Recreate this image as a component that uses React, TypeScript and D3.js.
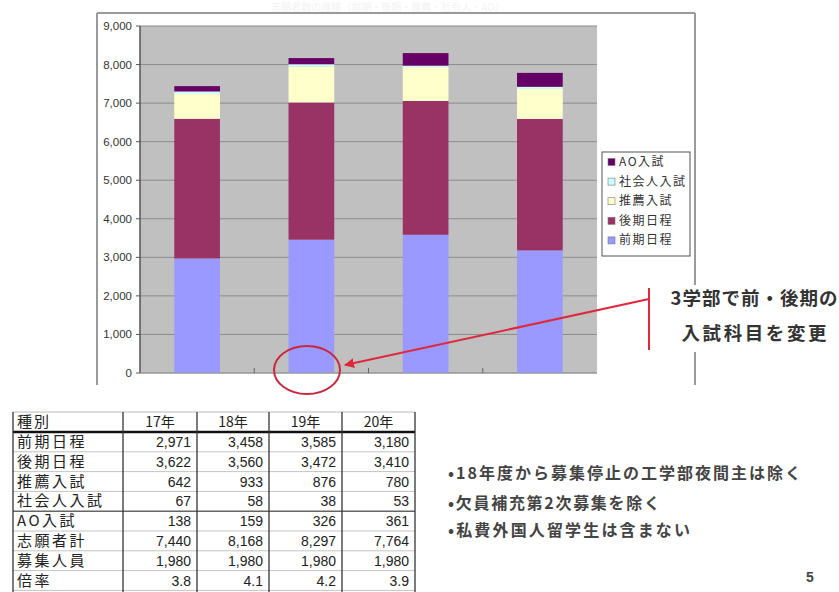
import React from "react";
import * as d3 from "d3";

const years = ["17年", "18年", "19年", "20年"];
const seriesNames = ["前期日程", "後期日程", "推薦入試", "社会人入試", "AO入試"];
const zenki = [2971, 3458, 3585, 3180];
const kouki = [3622, 3560, 3472, 3410];
const suisen = [642, 933, 876, 780];
const shakaijin = [67, 58, 38, 53];
const ao = [138, 159, 326, 361];
const totals = [7440, 8168, 8297, 7764];
const boshu = [1980, 1980, 1980, 1980];
const bairitsu = [3.8, 4.1, 4.2, 3.9];
const yTicks = [0, 1000, 2000, 3000, 4000, 5000, 6000, 7000, 8000, 9000];
const seriesColors = ["#9999FF", "#993366", "#FFFFCC", "#CCFFFF", "#660066"];
const notes = [
  "•18年度から募集停止の工学部夜間主は除く",
  "•欠員補充第2次募集を除く",
  "•私費外国人留学生は含まない",
];
const noteLengths = [353, 212, 242];
const callout = ["3学部で前・後期の", "入試科目を変更"];
const titleText = "志願者数の推移（前期・後期・推薦・社会人・AO）";

const W = 839;
const H = 592;
const jp = "'Noto Sans CJK JP', 'Noto Sans', sans-serif";
const latin = "'Liberation Sans', Arial, sans-serif";

export default function App() {
  const plot = { left: 140, right: 597, top: 26, bottom: 373 };
  const x = d3
    .scaleBand<string>()
    .domain(years)
    .range([plot.left, plot.right])
    .paddingInner(0.6)
    .paddingOuter(0.3);
  const y = d3.scaleLinear().domain([0, 9000]).range([plot.bottom, plot.top]);

  const rows = years.map((yr, i) => ({
    year: yr,
    前期日程: zenki[i],
    後期日程: kouki[i],
    推薦入試: suisen[i],
    社会人入試: shakaijin[i],
    AO入試: ao[i],
  }));
  const stack = d3.stack<any>().keys(seriesNames)(rows);
  const fmt = d3.format(",");
  const fmt1 = d3.format(".1f");

  const legend = { x: 602, y: 152, w: 88, h: 104 };
  const legendOrder = [...seriesNames].reverse();

  const colX = [13, 123, 197, 269, 342, 415];
  const tableTop = 412;
  const headerLine = 432;
  const rowH = 19.8;
  const tableRows: { label: string; vals: string[] }[] = [
    { label: "前期日程", vals: zenki.map(fmt) },
    { label: "後期日程", vals: kouki.map(fmt) },
    { label: "推薦入試", vals: suisen.map(fmt) },
    { label: "社会人入試", vals: shakaijin.map(fmt) },
    { label: "AO入試", vals: ao.map(fmt) },
    { label: "志願者計", vals: totals.map(fmt) },
    { label: "募集人員", vals: boshu.map(fmt) },
    { label: "倍率", vals: bairitsu.map(fmt1) },
  ];

  const red = "#e0283c";

  return (
    <svg
      width={W}
      height={H}
      style={{ position: "absolute", left: 0, top: 0, background: "#fff" }}
    >
      <defs>
        <marker
          id="arrow"
          viewBox="0 0 10 10"
          refX="9"
          refY="5"
          markerWidth="5"
          markerHeight="5"
          orient="auto-start-reverse"
        >
          <path d="M0,0 L10,5 L0,10 z" fill={red} />
        </marker>
      </defs>
      <rect x={0} y={0} width={W} height={H} fill="#fff" />

      {/* faint title */}
      <text
        x={388}
        y={11}
        textAnchor="middle"
        fontFamily={jp}
        fontSize={10}
        fill="#f3f3f3"
      >
        {titleText}
      </text>

      {/* outer chart frame */}
      <g stroke="#9a9a9a" strokeWidth={2} fill="none">
        <line x1={97} y1={13} x2={695} y2={13} />
        <line x1={97} y1={13} x2={97} y2={385} />
        <line x1={695} y1={13} x2={695} y2={385} />
      </g>

      {/* plot area */}
      <rect
        x={plot.left}
        y={plot.top}
        width={plot.right - plot.left}
        height={plot.bottom - plot.top}
        fill="#C0C0C0"
      />
      {yTicks.map((t) => (
        <line
          key={"g" + t}
          x1={plot.left}
          x2={plot.right}
          y1={y(t)}
          y2={y(t)}
          stroke="#8c8c8c"
          strokeWidth={1}
        />
      ))}

      {/* bars */}
      {stack.map((s, si) => (
        <g key={s.key} fill={seriesColors[si]}>
          {s.map((d, i) => (
            <rect
              key={i}
              x={x(years[i])}
              y={y(d[1])}
              width={x.bandwidth()}
              height={Math.max(0, y(d[0]) - y(d[1]))}
            />
          ))}
        </g>
      ))}

      {/* y axis */}
      <line
        x1={plot.left}
        x2={plot.left}
        y1={plot.top}
        y2={plot.bottom}
        stroke="#555"
        strokeWidth={1.5}
      />
      {yTicks.map((t) => (
        <g key={"t" + t}>
          <line
            x1={plot.left - 4}
            x2={plot.left}
            y1={y(t)}
            y2={y(t)}
            stroke="#555"
          />
          <text
            x={132}
            y={y(t) + 4}
            textAnchor="end"
            fontFamily={latin}
            fontSize={11.5}
            fill="#333"
          >
            {fmt(t)}
          </text>
        </g>
      ))}
      {/* x axis */}
      <line
        x1={plot.left}
        x2={plot.right}
        y1={plot.bottom}
        y2={plot.bottom}
        stroke="#9a9a9a"
      />
      {years.slice(1).map((yr) => {
        const bx = (x(yr) as number) - (x.step() - x.bandwidth()) / 2;
        return (
          <line
            key={"xt" + yr}
            x1={bx}
            x2={bx}
            y1={plot.bottom - 5}
            y2={plot.bottom}
            stroke="#666"
          />
        );
      })}

      {/* legend */}
      <rect
        x={legend.x}
        y={legend.y}
        width={legend.w}
        height={legend.h}
        fill="#fff"
        stroke="#555"
        strokeWidth={1}
      />
      {legendOrder.map((name, i) => {
        const cy = 162 + i * 19.6;
        const ci = seriesNames.indexOf(name);
        return (
          <g key={name}>
            <rect
              x={608}
              y={cy - 3.5}
              width={7}
              height={7}
              fill={seriesColors[ci]}
              stroke="#777"
              strokeWidth={0.6}
            />
            <text
              x={619}
              y={cy + 4}
              fontFamily={jp}
              fontSize={12}
              letterSpacing={1.5}
              fill="#333"
            >
              {name}
            </text>
          </g>
        );
      })}

      {/* callout */}
      <rect x={662} y={285} width={177} height={67} fill="#fff" />
      {callout.map((ln, i) => (
        <text
          key={ln}
          x={754}
          y={305 + i * 35}
          textAnchor="middle"
          fontFamily={jp}
          fontWeight="bold"
          fontSize={18.5}
          fill="#333"
          textLength={i === 0 ? 167 : 145}
          lengthAdjust="spacing"
        >
          {ln}
        </text>
      ))}
      <line x1={649} y1={288} x2={649} y2={350} stroke={red} strokeWidth={2} />
      <line
        x1={649}
        y1={299}
        x2={345}
        y2={365}
        stroke={red}
        strokeWidth={2}
        markerEnd="url(#arrow)"
      />
      <ellipse
        cx={307}
        cy={370}
        rx={33}
        ry={24}
        fill="none"
        stroke="#c8283c"
        strokeWidth={2}
      />

      {/* table */}
      <g>
        <line x1={colX[0]} x2={colX[5]} y1={tableTop} y2={tableTop} stroke="#bbb" />
        {tableRows.map((r, i) => {
          const yl = headerLine + rowH * (i + 1);
          return (
            <line
              key={"rl" + i}
              x1={colX[0]}
              x2={colX[5]}
              y1={yl}
              y2={yl}
              stroke={i === 3 ? "#666" : "#c4c4c4"}
              strokeWidth={i === 3 ? 1.5 : 1}
            />
          );
        })}
        <line
          x1={colX[0]}
          x2={colX[5]}
          y1={headerLine}
          y2={headerLine}
          stroke="#111"
          strokeWidth={2.5}
        />
        {colX.map((cx, i) => (
          <line
            key={"cl" + i}
            x1={cx}
            x2={cx}
            y1={tableTop}
            y2={H}
            stroke="#333"
            strokeWidth={1.3}
          />
        ))}
        <text
          x={17}
          y={427}
          fontFamily={jp}
          fontSize={15}
          letterSpacing={2}
          fill="#222"
        >
          種別
        </text>
        {years.map((yr, i) => (
          <text
            key={"h" + yr}
            x={(colX[i + 1] + colX[i + 2]) / 2}
            y={427}
            textAnchor="middle"
            fontFamily={jp}
            fontSize={14}
            fill="#222"
          >
            {yr}
          </text>
        ))}
        {tableRows.map((r, i) => {
          const cy = 442 + i * rowH;
          return (
            <g key={"r" + i}>
              <text
                x={17}
                y={cy + 5}
                fontFamily={jp}
                fontSize={15}
                letterSpacing={2.5}
                fill="#222"
              >
                {r.label}
              </text>
              {r.vals.map((v, j) => (
                <text
                  key={j}
                  x={colX[j + 2] - 6}
                  y={cy + 5}
                  textAnchor="end"
                  fontFamily={latin}
                  fontSize={14}
                  fill="#222"
                >
                  {v}
                </text>
              ))}
            </g>
          );
        })}
      </g>

      {/* notes */}
      {notes.map((n, i) => (
        <text
          key={n}
          x={448}
          y={[479, 509, 536][i]}
          fontFamily={jp}
          fontWeight="bold"
          fontSize={16}
          fill="#444"
          textLength={noteLengths[i]}
          lengthAdjust="spacing"
        >
          {n}
        </text>
      ))}
      <text
        x={810}
        y={582}
        textAnchor="middle"
        fontFamily={latin}
        fontWeight="bold"
        fontSize={14}
        fill="#444"
      >
        5
      </text>
    </svg>
  );
}
